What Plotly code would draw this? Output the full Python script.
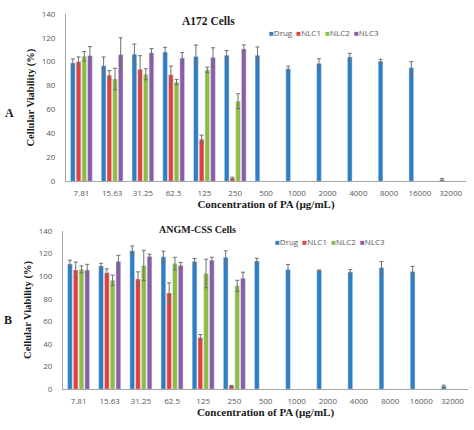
import plotly.graph_objects as go
from plotly.subplots import make_subplots

# concentrations of PA (ug/mL)
conc = ["7.81", "15.63", "31.25", "62.5", "125", "250", "500",
        "1000", "2000", "4000", "8000", "16000", "32000"]
series = ["Drug", "NLC1", "NLC2", "NLC3"]
colors = ["#2F7DC2", "#E2403C", "#8DBD45", "#8B5CA9"]
pad = [None] * 7

# Panel A: A172 cells
drug_a = [99, 96.6, 106.3, 108, 104.4, 105.3, 105.3, 94.1, 98.5, 104, 100.4, 95, 1.4]
drug_a_err = [3.3, 7.3, 8.4, 4, 9.5, 4, 7, 2.2, 4, 3, 1.6, 5, 1]
nlc1_a = [100, 88.7, 93.6, 89, 35.3, 2.7] + pad
nlc1_a_err = [4, 3.8, 11.4, 7.3, 3.3, 0.8] + pad
nlc2_a = [104.5, 85.5, 89.5, 83, 93.3, 67] + pad
nlc2_a_err = [4, 9, 4.6, 2.2, 2.2, 6.2] + pad
nlc3_a = [105, 106, 107.4, 103, 103.6, 110.7] + pad
nlc3_a_err = [7.6, 14, 3.5, 4.6, 8, 3.3] + pad

# Panel B: ANGM-CSS cells
drug_b = [110.6, 109, 122.3, 117, 112.9, 116.6, 113.4, 105.7, 104.9, 103.7, 107.4, 104, 2.6]
drug_b_err = [3.4, 2.3, 4.3, 5, 2.6, 5.7, 2.3, 4.6, 0.5, 2, 5.4, 4.6, 1]
nlc1_b = [105.4, 103, 97.4, 85, 45.7, 2.9] + pad
nlc1_b_err = [7, 3.4, 6.3, 9, 2.6, 0.5] + pad
nlc2_b = [106, 96.3, 109.4, 111, 102.3, 91.4] + pad
nlc2_b_err = [3, 4.6, 13.4, 5.6, 12.6, 4.9] + pad
nlc3_b = [105.4, 112.9, 117.4, 109.4, 114, 98] + pad
nlc3_b_err = [5, 5.4, 2, 2.6, 2.6, 5.4] + pad

panel_a = [(drug_a, drug_a_err), (nlc1_a, nlc1_a_err), (nlc2_a, nlc2_a_err), (nlc3_a, nlc3_a_err)]
panel_b = [(drug_b, drug_b_err), (nlc1_b, nlc1_b_err), (nlc2_b, nlc2_b_err), (nlc3_b, nlc3_b_err)]

fig = make_subplots(rows=2, cols=1)

for row, panel in [(1, panel_a), (2, panel_b)]:
    for name, color, (vals, errs) in zip(series, colors, panel):
        fig.add_trace(go.Bar(
            x=conc, y=vals, name=name, marker_color=color, showlegend=False,
            error_y=dict(type="data", array=errs, color="#6F6F6F", thickness=1, width=2),
        ), row=row, col=1)

W, H = 474, 430
ml, mr, mt, mb = 40, 2, 0, 0
pw, ph = W - ml - mr, H - mt - mb

def px_x(x):
    return (x - ml) / pw

def px_y(y):
    return (H - mb - y) / ph

serif = "Liberation Serif"
dark = "#1a1a1a"
tick_font = dict(family="Open Sans", size=8, color="#595959")
title_font = dict(family=serif, size=11, color=dark)

axis_common = dict(showgrid=False, showline=True, linecolor="#A6A6A6", linewidth=1,
                   zeroline=False, tickfont=tick_font)

fig.update_xaxes(type="category", ticks="", ticklabelstandoff=4,
                 title=dict(text="<b>Concentration of PA (µg/mL)</b>", font=title_font, standoff=3),
                 **axis_common)
fig.update_yaxes(range=[0, 140], dtick=20, ticks="", ticklabelstandoff=8,
                 title=dict(text="<b>Cellular Viability (%)</b>", font=dict(family=serif, size=10.5, color=dark), standoff=4),
                 **axis_common)

fig.update_layout(
    xaxis=dict(domain=[px_x(66), px_x(466)]),
    yaxis=dict(domain=[px_y(180), px_y(8)]),
    xaxis2=dict(domain=[px_x(63), px_x(468)]),
    yaxis2=dict(domain=[px_y(393.3), px_y(230.7)]),
)

legend_text = "  ".join(
    f"<span style='color:{c}'>■</span>{n}" for n, c in zip(series, colors))

annos = [
    dict(text="<b>A172 Cells</b>", x=px_x(208), y=px_y(15), font=dict(family=serif, size=11.5, color=dark)),
    dict(text="<b>ANGM-CSS Cells</b>", x=px_x(197), y=px_y(229), font=dict(family=serif, size=10, color=dark)),
    dict(text=legend_text, x=px_x(324), y=px_y(27), font=dict(family="Open Sans", size=8, color="#595959")),
    dict(text=legend_text, x=px_x(330), y=px_y(242), font=dict(family="Open Sans", size=8, color="#595959")),
    dict(text="<b>A</b>", x=px_x(9), y=px_y(110), font=dict(family=serif, size=12, color=dark)),
    dict(text="<b>B</b>", x=px_x(8), y=px_y(322), font=dict(family=serif, size=12, color=dark)),
]
for a in annos:
    fig.add_annotation(xref="paper", yref="paper", showarrow=False,
                       xanchor="center", yanchor="middle", **a)

fig.update_layout(
    width=W, height=H,
    margin=dict(l=ml, r=mr, t=mt, b=mb),
    barmode="group", bargap=0.26, bargroupgap=0.17,
    plot_bgcolor="white", paper_bgcolor="white",
)

# drop the browser's default 8px page margin so the figure sits at the corner
fig.write_html("out.html", config={"displayModeBar": False},
               post_script="document.body.style.margin='0px';")
